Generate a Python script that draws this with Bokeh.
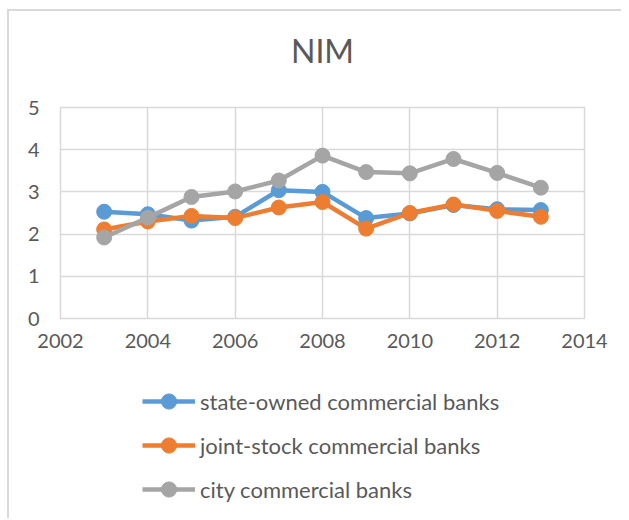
from bokeh.plotting import figure
from bokeh.models import Legend, LegendItem, FixedTicker, Range1d, Label
from bokeh.layouts import column
from bokeh.embed import file_html
from bokeh.resources import INLINE

years = [2003, 2004, 2005, 2006, 2007, 2008, 2009, 2010, 2011, 2012, 2013]
state_owned = [2.53, 2.47, 2.32, 2.41, 3.04, 3.00, 2.38, 2.49, 2.69, 2.59, 2.57]
joint_stock = [2.11, 2.30, 2.43, 2.38, 2.63, 2.76, 2.13, 2.50, 2.70, 2.55, 2.41]
city = [1.92, 2.39, 2.88, 3.01, 3.27, 3.86, 3.47, 3.44, 3.78, 3.45, 3.10]
series_names = ["state-owned commercial banks", "joint-stock commercial banks", "city commercial banks"]
colors = ["#5B9BD5", "#ED7D31", "#A5A5A5"]
x_ticks = [2002, 2004, 2006, 2008, 2010, 2012, 2014]
y_ticks = [0, 1, 2, 3, 4, 5]
title_text = "NIM"

FONT = "Lato"
TXT = "#595959"
GRID = "#D9D9D9"
W = 612


def blank(h):
    f = figure(width=W, height=h, output_backend="svg", toolbar_location=None,
               x_axis_type=None, y_axis_type=None, x_range=Range1d(0, 1), y_range=Range1d(0, 1),
               min_border_left=0, min_border_right=0, min_border_top=0, min_border_bottom=0)
    f.outline_line_color = None
    f.xgrid.visible = False
    f.ygrid.visible = False
    f.background_fill_color = "white"
    f.border_fill_color = "white"
    return f


# title strip
p0 = blank(76)
p0.add_layout(Label(x=262, y=37, x_units="screen", y_units="screen", text=title_text,
                    text_font=FONT, text_font_size="32px", text_color=TXT,
                    text_align="center", text_baseline="alphabetic"))

# chart
p = figure(width=W, height=281, output_backend="svg", toolbar_location=None,
           x_range=Range1d(2002, 2014), y_range=Range1d(0, 5),
           min_border_left=51, min_border_right=37, min_border_top=20, min_border_bottom=50)
p.outline_line_color = GRID
p.outline_line_width = 1.5
p.background_fill_color = "white"
p.border_fill_color = "white"

for ax in (p.xaxis, p.yaxis):
    ax.axis_line_color = None
    ax.major_tick_line_color = None
    ax.minor_tick_line_color = None
    ax.major_label_text_font = FONT
    ax.major_label_text_font_size = "20px"
    ax.major_label_text_color = TXT
p.xaxis.ticker = FixedTicker(ticks=x_ticks)
p.yaxis.ticker = FixedTicker(ticks=y_ticks)
p.xaxis.major_label_standoff = 9
p.yaxis.major_label_standoff = 15

p.xgrid.grid_line_color = GRID
p.ygrid.grid_line_color = GRID
p.xgrid.grid_line_width = 1.5
p.ygrid.grid_line_width = 1.5

series = [state_owned, joint_stock, city]
for vals, c in zip(series, colors):
    p.line(years, vals, line_color=c, line_width=4.5)
    p.scatter(years, vals, marker="circle", size=15, fill_color=c, line_color=c)

# legend strip (its swatch renderers hold one point that lies outside the strip's range)
p2 = blank(150)
items = []
for name, vals, c in zip(series_names, series, colors):
    r1 = p2.line(x=years[:2], y=vals[:2], line_color=c, line_width=4.5)
    r2 = p2.scatter(x=years[:1], y=vals[:1], marker="circle", size=15, fill_color=c, line_color=c)
    items.append(LegendItem(label=name, renderers=[r1, r2]))
legend = Legend(items=items, location=(82, 10), orientation="vertical",
                label_text_font=FONT, label_text_font_size="22px", label_text_color=TXT,
                glyph_width=53, glyph_height=38, label_height=20, label_standoff=5,
                spacing=6, padding=0, margin=0,
                border_line_color=None, background_fill_alpha=0)
p2.add_layout(legend, "center")

layout = column(p0, p, p2, spacing=0,
                styles={"margin-left": "7px", "margin-top": "9px",
                        "border-left": "2px solid #d9d9d9", "border-top": "2px solid #d9d9d9"})

open("out.html", "w").write(file_html(layout, INLINE))
